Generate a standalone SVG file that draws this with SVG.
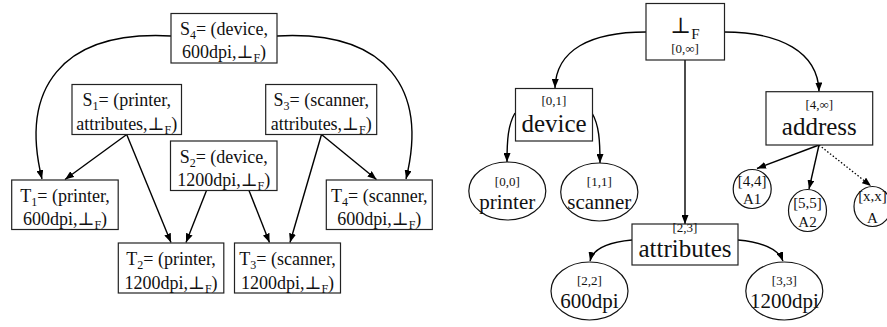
<svg xmlns="http://www.w3.org/2000/svg" width="887" height="327" viewBox="0 0 887 327">
<style>
  .box { fill: #fff; stroke: #222; stroke-width: 1.2; }
  .ell { fill: #fff; stroke: #111; stroke-width: 1.2; }
  .t { font-family: "Liberation Serif", "DejaVu Serif", serif; fill: #111; text-anchor: middle; }
  .l18 { font-size: 18px; }
  .sub { font-size: 12px; }
  .big { font-size: 25px; }
  .sm { font-size: 13px; }
  .mid { font-size: 21px; }
  .cir { font-size: 15px; }
  .edge { fill: none; stroke: #000; stroke-width: 1.4; }
  .dot { fill: none; stroke: #000; stroke-width: 1.3; stroke-dasharray: 1.5 2; }
</style>
<defs>
  <marker id="arr" markerUnits="userSpaceOnUse" markerWidth="10" markerHeight="7" refX="9" refY="3.5" orient="auto">
    <path d="M0,0 L9,3.5 L0,7 z" fill="#000"/>
  </marker>
</defs>

<g id="connectors">
  <!-- left graph -->
  <path class="edge" d="M171,36 C 60,30 20,90 42,179" marker-end="url(#arr)"/>
  <path class="edge" d="M277,36 C 388,30 428,90 406,179" marker-end="url(#arr)"/>
  <path class="edge" d="M126.7,134.5 L65,179.5" marker-end="url(#arr)"/>
  <path class="edge" d="M126.7,134.5 L171,242.5" marker-end="url(#arr)"/>
  <path class="edge" d="M206.5,190.5 L186,242.5" marker-end="url(#arr)"/>
  <path class="edge" d="M249,190.5 L269.5,242.5" marker-end="url(#arr)"/>
  <path class="edge" d="M321.5,134.5 L290,242.5" marker-end="url(#arr)"/>
  <path class="edge" d="M321.5,134.5 L376.5,179.5" marker-end="url(#arr)"/>
  <!-- right tree -->
  <path class="edge" d="M646,32 C 590,32 556,50 555,88" marker-end="url(#arr)"/>
  <path class="edge" d="M724,32 C 780,32 818,52 819,91.5" marker-end="url(#arr)"/>
  <path class="edge" d="M685,60 L685,224" marker-end="url(#arr)"/>
  <path class="edge" d="M515,113 C 508,125 507,140 507,162" marker-end="url(#arr)"/>
  <path class="edge" d="M592,113 C 599,125 600,140 600,163" marker-end="url(#arr)"/>
  <path class="edge" d="M632,240 C 610,242 593,248 590,261" marker-end="url(#arr)"/>
  <path class="edge" d="M738,240 C 760,242 778,248 783,261" marker-end="url(#arr)"/>
  <path class="edge" d="M819,145 L757,168.5" marker-end="url(#arr)"/>
  <path class="edge" d="M819,145 L809,189" marker-end="url(#arr)"/>
  <path class="dot" d="M819,145 L871,186" marker-end="url(#arr)"/>
</g>

<g id="S4">
  <rect class="box" x="171" y="13.5" width="106" height="49.5"/>
  <text class="t l18" x="224" y="35">S<tspan class="sub" dy="4">4</tspan><tspan dy="-4">= (device,</tspan></text>
  <text class="t l18" x="224" y="58">600dpi,⊥<tspan class="sub" dy="4">F</tspan><tspan dy="-4">)</tspan></text>
</g>
<g id="S1">
  <rect class="box" x="72" y="84.5" width="109.5" height="50"/>
  <text class="t l18" x="126.7" y="106">S<tspan class="sub" dy="4">1</tspan><tspan dy="-4">= (printer,</tspan></text>
  <text class="t l18" x="126.7" y="129.5">attributes,⊥<tspan class="sub" dy="4">F</tspan><tspan dy="-4">)</tspan></text>
</g>
<g id="S3">
  <rect class="box" x="265.7" y="84.5" width="111" height="50"/>
  <text class="t l18" x="321.2" y="106">S<tspan class="sub" dy="4">3</tspan><tspan dy="-4">= (scanner,</tspan></text>
  <text class="t l18" x="321.2" y="129.5">attributes,⊥<tspan class="sub" dy="4">F</tspan><tspan dy="-4">)</tspan></text>
</g>
<g id="S2">
  <rect class="box" x="170.5" y="141" width="106.5" height="49.5"/>
  <text class="t l18" x="223.7" y="163">S<tspan class="sub" dy="4">2</tspan><tspan dy="-4">= (device,</tspan></text>
  <text class="t l18" x="223.7" y="186">1200dpi,⊥<tspan class="sub" dy="4">F</tspan><tspan dy="-4">)</tspan></text>
</g>
<g id="T1">
  <rect class="box" x="11.7" y="180" width="106.5" height="49.5"/>
  <text class="t l18" x="65" y="202">T<tspan class="sub" dy="4">1</tspan><tspan dy="-4">= (printer,</tspan></text>
  <text class="t l18" x="65" y="225">600dpi,⊥<tspan class="sub" dy="4">F</tspan><tspan dy="-4">)</tspan></text>
</g>
<g id="T4">
  <rect class="box" x="326.3" y="180" width="106" height="49.5"/>
  <text class="t l18" x="379.3" y="202">T<tspan class="sub" dy="4">4</tspan><tspan dy="-4">= (scanner,</tspan></text>
  <text class="t l18" x="379.3" y="225">600dpi,⊥<tspan class="sub" dy="4">F</tspan><tspan dy="-4">)</tspan></text>
</g>
<g id="T2">
  <rect class="box" x="118.3" y="243" width="105.5" height="50"/>
  <text class="t l18" x="171" y="265">T<tspan class="sub" dy="4">2</tspan><tspan dy="-4">= (printer,</tspan></text>
  <text class="t l18" x="171" y="288.5">1200dpi,⊥<tspan class="sub" dy="4">F</tspan><tspan dy="-4">)</tspan></text>
</g>
<g id="T3">
  <rect class="box" x="234.5" y="243" width="106" height="50"/>
  <text class="t l18" x="287.5" y="265">T<tspan class="sub" dy="4">3</tspan><tspan dy="-4">= (scanner,</tspan></text>
  <text class="t l18" x="287.5" y="288.5">1200dpi,⊥<tspan class="sub" dy="4">F</tspan><tspan dy="-4">)</tspan></text>
</g>

<g id="bottomF">
  <rect class="box" x="646" y="3.5" width="78.5" height="56.5"/>
  <text class="t" x="685" y="32.5" style="font-size:22px">⊥<tspan style="font-size:15px" dy="6">F</tspan></text>
  <text class="t sm" x="685" y="53">[0,∞]</text>
</g>
<g id="device">
  <rect class="box" x="515.5" y="88.5" width="77" height="52.5"/>
  <text class="t sm" x="554" y="105">[0,1]</text>
  <text class="t big" x="554" y="131.5">device</text>
</g>
<g id="address">
  <rect class="box" x="766" y="91.7" width="106.7" height="53.3"/>
  <text class="t sm" x="819.3" y="108.5">[4,∞]</text>
  <text class="t big" x="819.3" y="135">address</text>
</g>
<g id="attributes">
  <rect class="box" x="632" y="224" width="106" height="41"/>
  <text class="t sm" x="685" y="231.5">[2,3]</text>
  <text class="t big" x="685" y="257">attributes</text>
</g>
<g id="printer">
  <ellipse class="ell" cx="507.3" cy="191" rx="38.5" ry="29"/>
  <text class="t sm" x="507.3" y="186">[0,0]</text>
  <text class="t mid" x="507.3" y="208.5">printer</text>
</g>
<g id="scanner">
  <ellipse class="ell" cx="599.3" cy="192" rx="38.6" ry="29"/>
  <text class="t sm" x="599.3" y="186">[1,1]</text>
  <text class="t mid" x="599.3" y="208.5">scanner</text>
</g>
<g id="dpi600">
  <ellipse class="ell" cx="589.5" cy="291" rx="38.5" ry="29"/>
  <text class="t sm" x="589.5" y="285">[2,2]</text>
  <text class="t mid" x="589.5" y="307.5">600dpi</text>
</g>
<g id="dpi1200">
  <ellipse class="ell" cx="784.3" cy="291" rx="38.5" ry="29"/>
  <text class="t sm" x="784.3" y="285">[3,3]</text>
  <text class="t mid" x="784.3" y="307.5">1200dpi</text>
</g>
<g id="A1">
  <ellipse class="ell" cx="752.2" cy="189" rx="19" ry="19.5"/>
  <text class="t cir" x="752.2" y="186">[4,4]</text>
  <text class="t cir" x="752.2" y="203.5">A1</text>
</g>
<g id="A2">
  <ellipse class="ell" cx="807.5" cy="210.5" rx="19" ry="21"/>
  <text class="t cir" x="807.5" y="208">[5,5]</text>
  <text class="t cir" x="807.5" y="226.5">A2</text>
</g>
<g id="A">
  <ellipse class="ell" cx="872.5" cy="206.5" rx="18.5" ry="20"/>
  <text class="t cir" x="872.5" y="201">[x,x]</text>
  <text class="t cir" x="872.5" y="222.5">A</text>
</g>
</svg>
